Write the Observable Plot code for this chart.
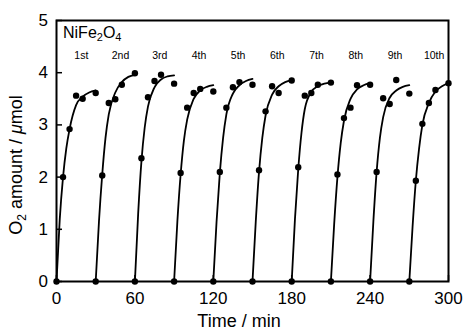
<!DOCTYPE html>
<html><head><meta charset="utf-8">
<script src="https://cdn.jsdelivr.net/npm/d3@7"></script>
<script src="https://cdn.jsdelivr.net/npm/@observablehq/plot@0.6"></script>
<style>body{margin:0;background:#fff}</style>
</head><body><div id="chart"></div>
<script>
// cycle start times (min) and labels
const cycleStarts = [0, 30, 60, 90, 120, 150, 180, 210, 240, 270];
const cycleLabels = ["1st", "2nd", "3rd", "4th", "5th", "6th", "7th", "8th", "9th", "10th"];
// measured sampling times within each cycle (min)
const sampleOffsets = [0, 5, 10, 15, 20, 30];
// measured O2 amounts (µmol)
const measured = [
  [0, 2.00, 2.92, 3.56, 3.50, 3.61],
  [0, 2.03, 3.42, 3.49, 3.77, 3.99],
  [0, 2.36, 3.53, 3.84, 3.96, 3.79],
  [0, 2.08, 3.33, 3.61, 3.69, 3.64],
  [0, 2.10, 3.33, 3.72, 3.82, 3.77],
  [0, 2.13, 3.26, 3.74, 3.61, 3.85],
  [0, 2.19, 3.56, 3.61, 3.77, 3.81],
  [0, 2.05, 3.13, 3.33, 3.76, 3.77],
  [0, 2.10, 3.51, 3.40, 3.86, 3.60],
  [0, 1.93, 3.02, 3.42, 3.67, 3.80]
];
// fitted curve
const fitOffsets = [0, 2.5, 5, 7.5, 10, 15, 20, 25, 30];
const fitted = [
  [0, 1.20, 2.00, 2.55, 2.92, 3.38, 3.54, 3.62, 3.66],
  [0, 1.15, 2.05, 2.75, 3.20, 3.62, 3.82, 3.92, 3.96],
  [0, 1.30, 2.30, 2.95, 3.35, 3.72, 3.87, 3.93, 3.95],
  [0, 1.15, 2.05, 2.70, 3.10, 3.50, 3.66, 3.73, 3.76],
  [0, 1.15, 2.08, 2.75, 3.20, 3.60, 3.76, 3.84, 3.88],
  [0, 1.15, 2.10, 2.75, 3.18, 3.58, 3.74, 3.82, 3.86],
  [0, 1.20, 2.15, 2.85, 3.30, 3.63, 3.74, 3.79, 3.81],
  [0, 1.10, 2.00, 2.65, 3.08, 3.50, 3.68, 3.76, 3.80],
  [0, 1.15, 2.10, 2.75, 3.15, 3.52, 3.66, 3.73, 3.76],
  [0, 1.05, 1.93, 2.55, 3.00, 3.42, 3.64, 3.74, 3.80]
];
const xTicks = [0, 60, 120, 180, 240, 300];
const yTicks = [0, 1, 2, 3, 4, 5];
const labelLevel = 4.32;
const labelShift = 19;

const points = cycleStarts.flatMap((s, i) => sampleOffsets.map((o, j) => ({cycle: i, t: s + o, v: measured[i][j]})));
const fits = cycleStarts.flatMap((s, i) => fitOffsets.map((o, j) => ({cycle: i, t: s + o, v: fitted[i][j]})));

const chart = Plot.plot({
  width: 465, height: 331,
  marginLeft: 56, marginRight: 17, marginTop: 20, marginBottom: 50,
  style: {fontFamily: "'Liberation Sans', Arial, sans-serif", background: "#fff", color: "#000"},
  x: {domain: [0, 300]},
  y: {domain: [0, 5]},
  marks: [
    Plot.frame({strokeWidth: 2, stroke: "#000"}),
    Plot.axisX({ticks: xTicks, tickSize: -6, tickPadding: 16, label: null, fontSize: 17, strokeWidth: 1.5, tickFormat: d => String(d)}),
    Plot.axisY({ticks: yTicks, tickSize: -6, tickPadding: 14.5, label: null, fontSize: 17, strokeWidth: 1.5, tickFormat: d => String(d)}),
    Plot.line(fits, {x: "t", y: "v", z: "cycle", curve: "monotone-x", stroke: "#000", strokeWidth: 1.8}),
    Plot.dot(points, {x: "t", y: "v", r: 3.2, fill: "#000"}),
    Plot.text(cycleLabels, {x: (d, i) => cycleStarts[i] + labelShift, y: () => labelLevel, text: d => d, fontSize: 10.5, fill: "#000"})
  ]
});
document.getElementById("chart").append(chart);

const svg = d3.select(chart);
const ff = "'Liberation Sans', Arial, sans-serif";
// y label
const yl = svg.append("text").attr("transform", "translate(22,165) rotate(-90)")
  .attr("text-anchor", "middle").attr("font-size", 18).attr("font-family", ff).attr("fill", "#000");
yl.append("tspan").text("O");
yl.append("tspan").attr("font-size", 12).attr("dy", 4).text("2");
yl.append("tspan").attr("dy", -4).text(" amount / ");
yl.append("tspan").attr("font-style", "italic").text("μ");
yl.append("tspan").text("mol");
// x label
svg.append("text").attr("x", 239).attr("y", 327).attr("text-anchor", "middle")
  .attr("font-size", 18).attr("font-family", ff).attr("fill", "#000").text("Time / min");
// compound label
const tl = svg.append("text").attr("x", 63).attr("y", 38).attr("text-anchor", "start")
  .attr("font-size", 16).attr("font-family", ff).attr("fill", "#000");
tl.append("tspan").text("NiFe");
tl.append("tspan").attr("font-size", 11).attr("dy", 3).text("2");
tl.append("tspan").attr("dy", -3).text("O");
tl.append("tspan").attr("font-size", 11).attr("dy", 3).text("4");
</script>
</body></html>
